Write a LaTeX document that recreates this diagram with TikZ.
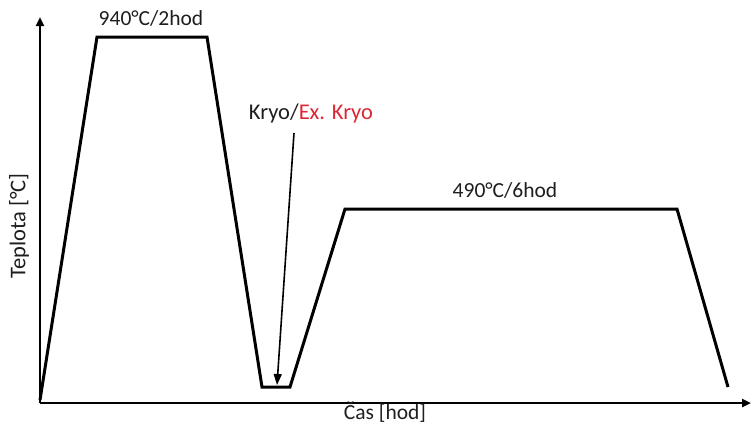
\documentclass[tikz,border=0pt]{standalone}
\usepackage{fontspec}
\setmainfont{Carlito}
\usetikzlibrary{arrows.meta}
\definecolor{kred}{RGB}{220,40,50}
\definecolor{ktext}{RGB}{30,30,30}
\begin{document}
\begin{tikzpicture}[x=1pt,y=-1pt,
  axis/.style={line width=2.6pt,-{Triangle[length=9pt,width=8pt]}},
  curve/.style={line width=3pt,line join=miter},
  lbl/.style={font=\fontsize{21.5}{24}\selectfont,text=ktext,inner sep=0pt},
  biglbl/.style={font=\fontsize{22.5}{25}\selectfont,text=ktext,inner sep=0pt},
  pointer/.style={line width=1.6pt,-{Triangle[length=11pt,width=8pt]}}]
\useasboundingbox (0,0) rectangle (751,421);
\coordinate (o) at (40,403);
\coordinate (ytop) at (40,17);
\coordinate (xend) at (751,403);
\draw[axis] (o) -- (ytop);
\draw[axis] (o) -- (xend);
\coordinate (p0) at (40,400);
\coordinate (p1) at (97,37);
\coordinate (p2) at (207,37);
\coordinate (p3) at (262,387);
\coordinate (p4) at (290,387);
\coordinate (p5) at (345,209);
\coordinate (p6) at (677,209);
\coordinate (p7) at (728,387);
\draw[curve] (p0) -- (p1) -- (p2) -- (p3) -- (p4) -- (p5) -- (p6) -- (p7);
\node[lbl] (t1) at (151,18) {940°C/2hod};
\node[lbl] (t2) at (505,190) {490°C/6hod};
\node[biglbl] (kryo) at (311,113) {Kryo/\textcolor{kred}{Ex. Kryo}};
\coordinate (ks) at (294,133);
\coordinate (ke) at (277,385);
\draw[pointer] (ks) -- (ke);
\node[lbl] (xl) at (385,412) {Čas [hod]};
\node[biglbl,rotate=90] (yl) at (19,226) {Teplota [°C]};
\end{tikzpicture}
\end{document}
